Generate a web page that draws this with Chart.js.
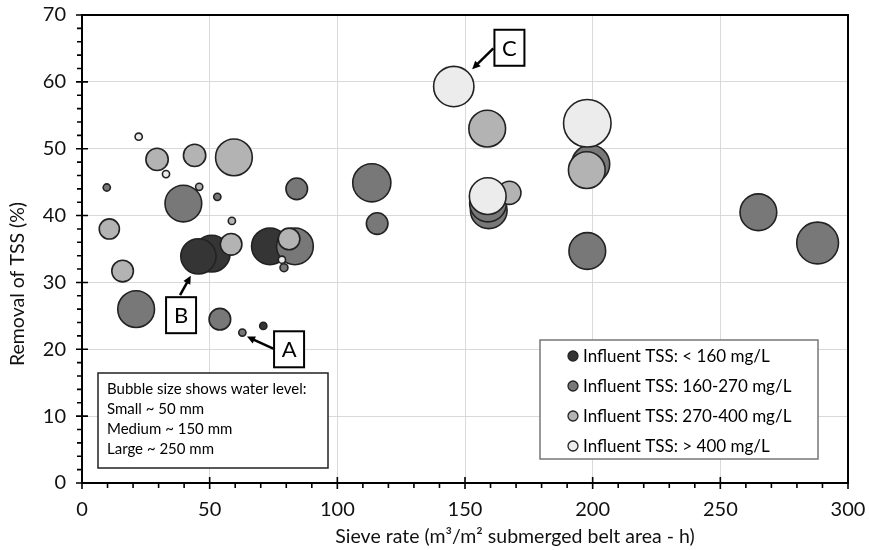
<!DOCTYPE html>
<html>
<head>
<meta charset="utf-8">
<script src="https://cdn.jsdelivr.net/npm/chart.js@4.4.0/dist/chart.umd.min.js"></script>
<style>
  body { margin: 0; background: #fff; }
  #wrap { width: 869px; height: 550px; }
</style>
</head>
<body>
<div id="wrap"><canvas id="myChart" width="869" height="550"></canvas></div>
<script>
'use strict';

let fontName = 'Lato';

// influent TSS classes
let classLabels = ['Influent TSS: < 160 mg/L', 'Influent TSS: 160-270 mg/L', 'Influent TSS: 270-400 mg/L', 'Influent TSS: > 400 mg/L'];

// sieve rate (x), removal of TSS % (y), water level in mm (bubble size)
let lowX = [50.8, 45.6, 73.6, 71.0];
let lowY = [34.3, 33.9, 35.4, 23.5];
let lowLevel = [255, 245, 255, 50];

let midX = [9.7, 39.7, 53.0, 84.1, 83.4, 79.1, 21.2, 54.0, 62.8, 113.5, 115.6, 159.3, 159.0, 199.2, 197.9, 264.9, 288.1];
let midY = [44.2, 41.8, 42.8, 44.0, 35.4, 32.2, 26.0, 24.5, 22.5, 44.9, 38.8, 40.8, 41.8, 47.7, 34.7, 40.5, 35.9];
let midLevel = [50, 255, 50, 150, 255, 55, 255, 150, 50, 265, 150, 255, 255, 265, 255, 255, 290];

let highX = [29.4, 44.1, 59.5, 45.9, 58.7, 10.7, 58.4, 81.1, 15.9, 158.7, 167.4, 197.7];
let highY = [48.4, 49.0, 48.7, 44.3, 39.2, 38.0, 35.7, 36.5, 31.7, 53.0, 43.4, 46.8];
let highLevel = [155, 155, 255, 50, 50, 140, 150, 150, 150, 255, 160, 255];

let topX = [22.2, 32.9, 78.3, 145.6, 158.9, 197.9];
let topY = [51.8, 46.2, 33.4, 59.3, 42.9, 53.8];
let topLevel = [50, 50, 50, 280, 255, 330];

let classColors = ['#353535', '#787878', '#b3b3b3', '#ececec'];

let xTitle = 'Sieve rate (m³/m² submerged belt area - h)';
let yTitle = 'Removal of TSS (%)';

// labelled points A, B, C : box centre and arrow tip (data units)
let callouts = [
  { text: 'A', bx: 81.1, by: 20.0, fromX: 74.9, fromY: 20.1, toX: 64.6, toY: 21.9 },
  { text: 'B', bx: 38.8, by: 25.1, fromX: 38.4, fromY: 28.1, toX: 42.6, toY: 31.0 },
  { text: 'C', bx: 167.4, by: 65.1, fromX: 161.1, fromY: 65.0, toX: 152.8, toY: 61.9 }
];

let sizeNote = ['Bubble size shows water level:', 'Small ~ 50 mm', 'Medium ~ 150 mm', 'Large ~ 250 mm'];

function makePoints(xs, ys, levels) {
  let pts = [];
  for (let i = 0; i < xs.length; i++) {
    pts.push({ x: xs[i], y: ys[i], r: levels[i] * 0.072 });
  }
  return pts;
}

let seriesData = [
  makePoints(lowX, lowY, lowLevel),
  makePoints(midX, midY, midLevel),
  makePoints(highX, highY, highLevel),
  makePoints(topX, topY, topLevel)
];

let datasets = [];
for (let i = 0; i < seriesData.length; i++) {
  datasets.push({
    label: classLabels[i],
    data: seriesData[i],
    backgroundColor: classColors[i],
    borderColor: '#222',
    borderWidth: 1.6,
    hoverRadius: 0,
    order: seriesData.length - i   // later class drawn on top
  });
}

function drawArrow(ctx, x1, y1, x2, y2) {
  let ang = Math.atan2(y2 - y1, x2 - x1);
  let head = 9;
  ctx.strokeStyle = '#000';
  ctx.fillStyle = '#000';
  ctx.lineWidth = 2.5;
  ctx.beginPath();
  ctx.moveTo(x1, y1);
  ctx.lineTo(x2 - Math.cos(ang) * head * 0.8, y2 - Math.sin(ang) * head * 0.8);
  ctx.stroke();
  ctx.beginPath();
  ctx.moveTo(x2, y2);
  ctx.lineTo(x2 - head * Math.cos(ang - 0.45), y2 - head * Math.sin(ang - 0.45));
  ctx.lineTo(x2 - head * Math.cos(ang + 0.45), y2 - head * Math.sin(ang + 0.45));
  ctx.closePath();
  ctx.fill();
}

let extras = {
  id: 'extras',
  afterDraw(chart) {
    let ctx = chart.ctx;
    let area = chart.chartArea;
    let xs = chart.scales.x;
    let ys = chart.scales.y;
    ctx.save();

    // frame
    ctx.strokeStyle = '#000';
    ctx.lineWidth = 2;
    ctx.strokeRect(area.left, area.top, area.right - area.left, area.bottom - area.top);

    // ticks
    ctx.lineWidth = 1.6;
    ctx.beginPath();
    for (let v = 0; v <= 300; v += 10) {
      let px = xs.getPixelForValue(v);
      if (v % 50 === 0) {
        ctx.moveTo(px, area.bottom - 6);
        ctx.lineTo(px, area.bottom + 6);
      } else {
        ctx.moveTo(px, area.bottom);
        ctx.lineTo(px, area.bottom + 5);
      }
    }
    for (let v = 0; v <= 70; v += 2) {
      let py = ys.getPixelForValue(v);
      if (v % 10 === 0) {
        ctx.moveTo(area.left - 6, py);
        ctx.lineTo(area.left + 6, py);
      } else {
        ctx.moveTo(area.left - 5, py);
        ctx.lineTo(area.left, py);
      }
    }
    ctx.stroke();

    // axis titles (sit a bit off centre, as in the original)
    ctx.fillStyle = '#111';
    ctx.font = '19.5px ' + fontName;
    ctx.textAlign = 'center';
    ctx.textBaseline = 'middle';
    ctx.fillText(xTitle, 515, 537);
    ctx.save();
    ctx.translate(18, 284);
    ctx.rotate(-Math.PI / 2);
    ctx.fillText(yTitle, 0, 0);
    ctx.restore();

    // callouts
    for (let c of callouts) {
      drawArrow(ctx, xs.getPixelForValue(c.fromX), ys.getPixelForValue(c.fromY),
        xs.getPixelForValue(c.toX), ys.getPixelForValue(c.toY));
      let cx = xs.getPixelForValue(c.bx);
      let cy = ys.getPixelForValue(c.by);
      ctx.fillStyle = '#fff';
      ctx.fillRect(cx - 15, cy - 18, 30, 36);
      ctx.lineWidth = 2;
      ctx.strokeStyle = '#000';
      ctx.strokeRect(cx - 15, cy - 18, 30, 36);
      ctx.fillStyle = '#000';
      ctx.font = '22px ' + fontName;
      ctx.textAlign = 'center';
      ctx.textBaseline = 'middle';
      ctx.fillText(c.text, cx, cy + 1);
    }

    // bubble size note
    let nx = area.left + 16;
    let ny = area.bottom - 110;
    ctx.fillStyle = '#fff';
    ctx.fillRect(nx, ny, 230, 95);
    ctx.strokeStyle = '#222';
    ctx.lineWidth = 1.5;
    ctx.strokeRect(nx, ny, 230, 95);
    ctx.fillStyle = '#000';
    ctx.font = '15px ' + fontName;
    ctx.textAlign = 'left';
    ctx.textBaseline = 'middle';
    for (let i = 0; i < sizeNote.length; i++) {
      ctx.fillText(sizeNote[i], nx + 9, ny + 16 + i * 20);
    }

    // legend
    let lx = area.right - 308;
    let ly = area.bottom - 143;
    ctx.fillStyle = '#fff';
    ctx.fillRect(lx, ly, 278, 119);
    ctx.strokeStyle = '#777';
    ctx.lineWidth = 1.5;
    ctx.strokeRect(lx, ly, 278, 119);
    ctx.font = '17px ' + fontName;
    for (let i = 0; i < classLabels.length; i++) {
      let yy = ly + 16 + i * 30;
      ctx.beginPath();
      ctx.arc(lx + 33, yy, 5, 0, Math.PI * 2);
      ctx.fillStyle = classColors[i];
      ctx.fill();
      ctx.strokeStyle = '#222';
      ctx.lineWidth = 1.3;
      ctx.stroke();
      ctx.fillStyle = '#000';
      ctx.fillText(classLabels[i], lx + 43, yy + 1);
    }
    ctx.restore();
  }
};

let ctx = document.getElementById('myChart').getContext('2d');

let myChart = new Chart(ctx, {
  type: 'bubble',
  data: { datasets: datasets },
  plugins: [extras],
  options: {
    responsive: false,
    animation: false,
    devicePixelRatio: 1,
    layout: { autoPadding: false, padding: { top: 15, right: 21, left: 0, bottom: 0 } },
    plugins: {
      legend: { display: false },
      tooltip: { enabled: false }
    },
    scales: {
      x: {
        min: 0,
        max: 300,
        afterFit(scale) {
          scale.height = 67;
          scale.paddingLeft = 0;
          scale.paddingRight = 0;
        },
        ticks: { stepSize: 50, padding: 15, color: '#111', font: { family: fontName, size: 20 } },
        grid: { color: '#d9d9d9', drawTicks: false },
        border: { color: '#000', width: 2 }
      },
      y: {
        min: 0,
        max: 70,
        afterFit(scale) {
          scale.width = 82;
          scale.paddingTop = 0;
          scale.paddingBottom = 0;
        },
        ticks: { stepSize: 10, padding: 16, color: '#111', font: { family: fontName, size: 20 } },
        grid: { color: '#d9d9d9', drawTicks: false },
        border: { color: '#000', width: 2 }
      }
    }
  }
});
</script>
</body>
</html>
